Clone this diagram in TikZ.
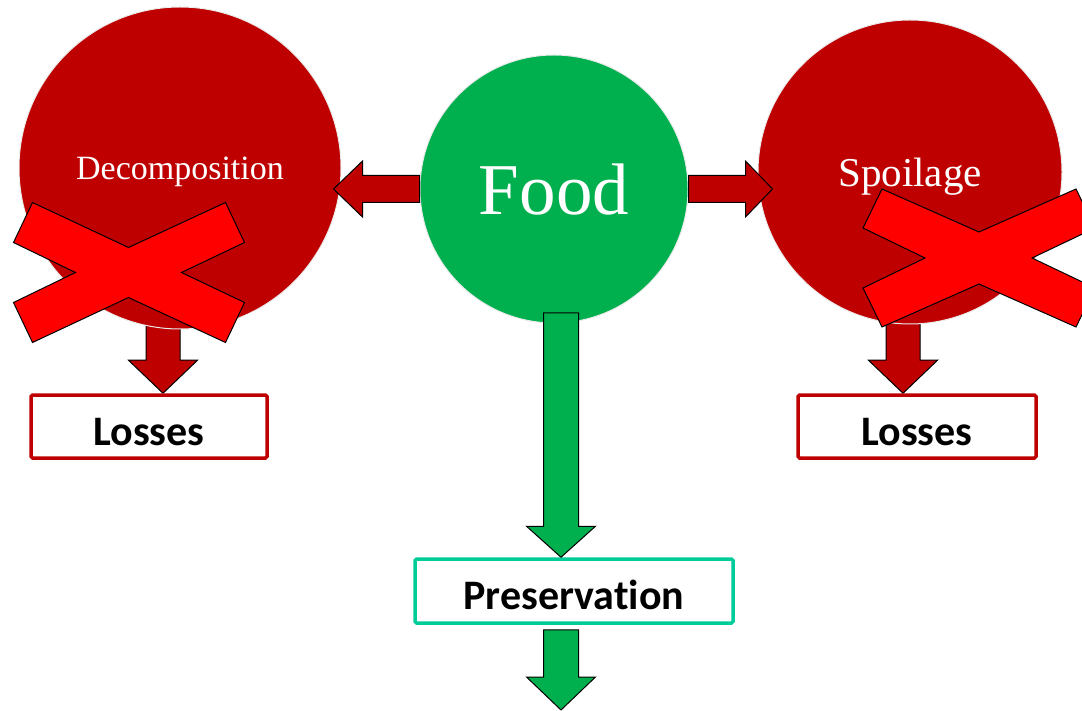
\documentclass[tikz,border=0pt]{standalone}
\usepackage{fontspec}
\setmainfont{Liberation Serif}
\newfontfamily\boxfont[Ligatures=NoCommon]{Carlito}
\usepackage{xcolor}
\definecolor{darkred}{rgb}{0.75,0,0}
\definecolor{brightred}{rgb}{1,0,0}
\definecolor{foodgreen}{rgb}{0,0.69,0.31}
\definecolor{boxteal}{rgb}{0,0.8,0.6}
\usepackage{tikz}
\usetikzlibrary{calc, backgrounds}
% block arrow: style, start, end, shaft half width, head half width, head length
\newcommand{\blockarrow}[6]{%
    \coordinate (neck) at ($(#3)!#6!(#2)$);
    \draw[#1]
        ($(#2)!#4!90:(#3)$)--
        ($(neck)!#4!90:(#3)$)--
        ($(neck)!#5!90:(#3)$)--
        (#3)--
        ($(neck)!#5!-90:(#3)$)--
        ($(neck)!#4!-90:(#3)$)--
        ($(#2)!#4!-90:(#3)$)--
        cycle;
}
\begin{document}
\begin{tikzpicture}
    [x=1pt, y=-1pt,
     bubble/.style={circle, draw=black!8, line width=1pt, inner sep=0pt,
        text=white, text depth=0pt},
     textbox/.style={draw=darkred, fill=white, line width=3.5pt,
        rounded corners=1.5pt, inner sep=0pt, minimum height=63pt,
        font=\boxfont\bfseries\fontsize{42}{50}\selectfont,
        text height=37pt, text depth=0pt},
     redarrow/.style={fill=darkred, draw=black, line width=1pt},
     greenarrow/.style={fill=foodgreen, draw=black, line width=1pt},
     crossmark/.style={fill=brightred, draw=black, line width=1pt}]
    \useasboundingbox (0,0) rectangle (1082,711);
    % circles
    \node[bubble, fill=darkred, minimum size=322pt,
        font=\fontsize{34}{40}\selectfont] (decomp) at (180,168) {Decomposition};
    \node[bubble, fill=foodgreen, minimum size=268pt,
        font=\fontsize{73}{80}\selectfont] (food) at (554,189) {Food};
    \node[bubble, fill=darkred, minimum size=304pt,
        font=\fontsize{41}{48}\selectfont] (spoil) at (910,172) {Spoilage};
    % boxes
    \node[textbox, minimum width=236pt] (loss1) at (149,426.5) {Losses};
    \node[textbox, minimum width=238pt] (loss2) at (917,426.5) {Losses};
    \node[textbox, draw=boxteal, minimum width=318pt, minimum height=64pt]
        (pres) at (574,591) {Preservation};
    % arrow ends
    \coordinate (dtip) at ($(decomp.east |- food.west)+(-8,0)$);
    \coordinate (stip) at ($(spoil.west |- food.east)+(15,0)$);
    \coordinate (d1) at (163,310);
    \coordinate (d2) at (903,310);
    \coordinate (f1) at (561,313);
    \coordinate (f2) at ($(f1 |- pres.south)+(0,5)$);
    \coordinate (f3) at (561,710);
    % arrows
    \begin{pgfonlayer}{background}
        \blockarrow{redarrow}{d1}{d1 |- loss1.north}{17pt}{34.5pt}{33pt}
        \blockarrow{redarrow}{d2}{d2 |- loss2.north}{17pt}{34.5pt}{33pt}
    \end{pgfonlayer}
    \blockarrow{redarrow}{food.west}{dtip}{13.5pt}{28pt}{29pt}
    \blockarrow{redarrow}{food.east}{stip}{13.5pt}{28pt}{27pt}
    \blockarrow{greenarrow}{f1}{f1 |- pres.north}{17.5pt}{34.5pt}{31pt}
    \blockarrow{greenarrow}{f2}{f3}{17.5pt}{34.5pt}{33pt}
    % crosses
    \draw[crossmark, shift={(128.5,272.5)}]
        (-115,-30)--
        (-96,-70)--
        (0,-25)--
        (97,-70)--
        (116,-30)--
        (53,0)--
        (116,30)--
        (97,70)--
        (0,25)--
        (-96,70)--
        (-115,30)--
        (-53,0)--
        cycle;
    \draw[crossmark, shift={(979,258)}]
        (-116,-30)--
        (-97,-69)--
        (0,-26)--
        (97,-69)--
        (116,-30)--
        (53,0)--
        (116,30)--
        (97,69)--
        (0,26)--
        (-97,69)--
        (-116,30)--
        (-54,0)--
        cycle;
\end{tikzpicture}
\end{document}
